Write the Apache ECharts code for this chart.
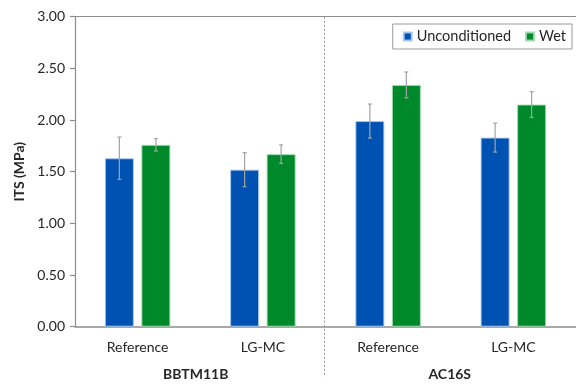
<!DOCTYPE html>
<html>
<head>
<meta charset="utf-8">
<script src="https://cdn.jsdelivr.net/npm/echarts@6/dist/echarts.min.js"></script>
<style>
  html, body { margin: 0; padding: 0; background: #fff; }
  #chart { width: 576px; height: 385px; }
</style>
</head>
<body>
<div id="chart"></div>
<script>
// Indirect tensile strength per mixture, unconditioned vs. wet
const categories = ['Reference', 'LG-MC', 'Reference', 'LG-MC'];
const groups = ['BBTM11B', 'AC16S'];
const unconditioned = [1.63, 1.52, 1.99, 1.83];
const unconditionedErr = [0.205, 0.165, 0.165, 0.14];
const wet = [1.76, 1.67, 2.34, 2.15];
const wetErr = [0.06, 0.09, 0.125, 0.125];
const yTicks = [0, 0.5, 1, 1.5, 2, 2.5, 3];

const FONT = 'Lato, "Liberation Sans", sans-serif';
const BLUE = '#0052B2';
const GREEN = '#00892B';
const AXIS = '#8c8c8c';
const TEXT = '#262626';

const BAR_W = 29;
const BAR_GAP = 7.5;
const HALF_STEP = (BAR_W + BAR_GAP) / 2;

function errorSeries(name, values, errs, dx) {
  return {
    type: 'custom',
    name: name + ' error',
    xAxisIndex: 0,
    yAxisIndex: 0,
    z: 5,
    silent: true,
    data: values.map((v, i) => [i, v, errs[i]]),
    renderItem: function (params, api) {
      const i = api.value(0);
      const v = api.value(1);
      const e = api.value(2);
      const top = api.coord([i, v + e]);
      const bot = api.coord([i, v - e]);
      const x = top[0] + dx;
      const style = { stroke: '#a3a3a3', lineWidth: 1.2 };
      return {
        type: 'group',
        children: [
          { type: 'line', shape: { x1: x, y1: top[1], x2: x, y2: bot[1] }, style: style },
          { type: 'line', shape: { x1: x - 2, y1: top[1], x2: x + 2, y2: top[1] }, style: style },
          { type: 'line', shape: { x1: x - 2, y1: bot[1], x2: x + 2, y2: bot[1] }, style: style }
        ]
      };
    }
  };
}

const chart = echarts.init(document.getElementById('chart'), null, { renderer: 'canvas' });

chart.setOption({
  animation: false,
  backgroundColor: '#ffffff',
  textStyle: { fontFamily: FONT },
  grid: { left: 75, right: -11, top: 16.7, bottom: 58.3, containLabel: false },
  legend: {
    data: ['Unconditioned', 'Wet'],
    right: 4,
    top: 24,
    orient: 'horizontal',
    icon: 'rect',
    itemWidth: 8,
    itemHeight: 8,
    itemGap: 14,
    padding: [5, 6, 5, 10],
    borderColor: '#9a9a9a',
    borderWidth: 1,
    backgroundColor: '#ffffff',
    textStyle: { fontFamily: FONT, fontSize: 14.5, color: TEXT }
  },
  xAxis: [
    {
      type: 'category',
      data: categories,
      position: 'bottom',
      axisLine: { show: true, lineStyle: { color: AXIS, width: 1.5 } },
      axisTick: { show: false },
      axisLabel: { fontFamily: FONT, fontSize: 14, color: TEXT, margin: 14 },
      splitLine: { show: false }
    },
    {
      type: 'category',
      data: [
        { value: groups[0], textStyle: { padding: [0, 9, 0, 0] } },
        { value: groups[1], textStyle: { padding: [0, 2, 0, 0] } }
      ],
      position: 'bottom',
      axisLine: { show: false },
      axisTick: { show: false },
      axisLabel: { fontFamily: FONT, fontSize: 14, fontWeight: 'bold', color: TEXT, margin: 41 },
      splitLine: { show: false }
    },
    {
      type: 'category',
      data: categories,
      position: 'top',
      axisLine: { show: true, lineStyle: { color: AXIS, width: 1.2 } },
      axisTick: { show: false },
      axisLabel: { show: false },
      splitLine: { show: false }
    }
  ],
  yAxis: {
    type: 'value',
    min: yTicks[0],
    max: yTicks[yTicks.length - 1],
    interval: yTicks[1] - yTicks[0],
    name: 'ITS (MPa)',
    nameLocation: 'middle',
    nameGap: 47,
    nameTextStyle: { fontFamily: FONT, fontSize: 14, fontWeight: 'bold', color: TEXT },
    axisLine: { show: true, lineStyle: { color: AXIS, width: 1.2 } },
    axisTick: { show: true, inside: false, length: 5, lineStyle: { color: AXIS, width: 1.2 } },
    axisLabel: {
      fontFamily: FONT, fontSize: 14, color: TEXT, margin: 10,
      formatter: v => v.toFixed(2)
    },
    splitLine: { show: false }
  },
  series: [
    {
      name: 'Unconditioned',
      type: 'bar',
      xAxisIndex: 0,
      data: unconditioned,
      barWidth: BAR_W,
      barGap: (BAR_GAP / BAR_W * 100).toFixed(1) + '%',
      itemStyle: { color: BLUE, borderColor: 'rgba(170,200,240,0.9)', borderWidth: 1 }
    },
    {
      name: 'Wet',
      type: 'bar',
      xAxisIndex: 0,
      data: wet,
      barWidth: BAR_W,
      barGap: (BAR_GAP / BAR_W * 100).toFixed(1) + '%',
      itemStyle: { color: GREEN, borderColor: 'rgba(160,220,175,0.9)', borderWidth: 1 }
    },
    errorSeries('Unconditioned', unconditioned, unconditionedErr, -HALF_STEP),
    errorSeries('Wet', wet, wetErr, HALF_STEP)
  ],
  graphic: [
    {
      // dashed divider between the two mixture groups
      type: 'line',
      z: 10,
      shape: { x1: 324.5, y1: 16.7, x2: 324.5, y2: 377 },
      style: { stroke: '#9a9a9a', lineWidth: 1, lineDash: [2, 2] }
    }
  ]
});
</script>
</body>
</html>
